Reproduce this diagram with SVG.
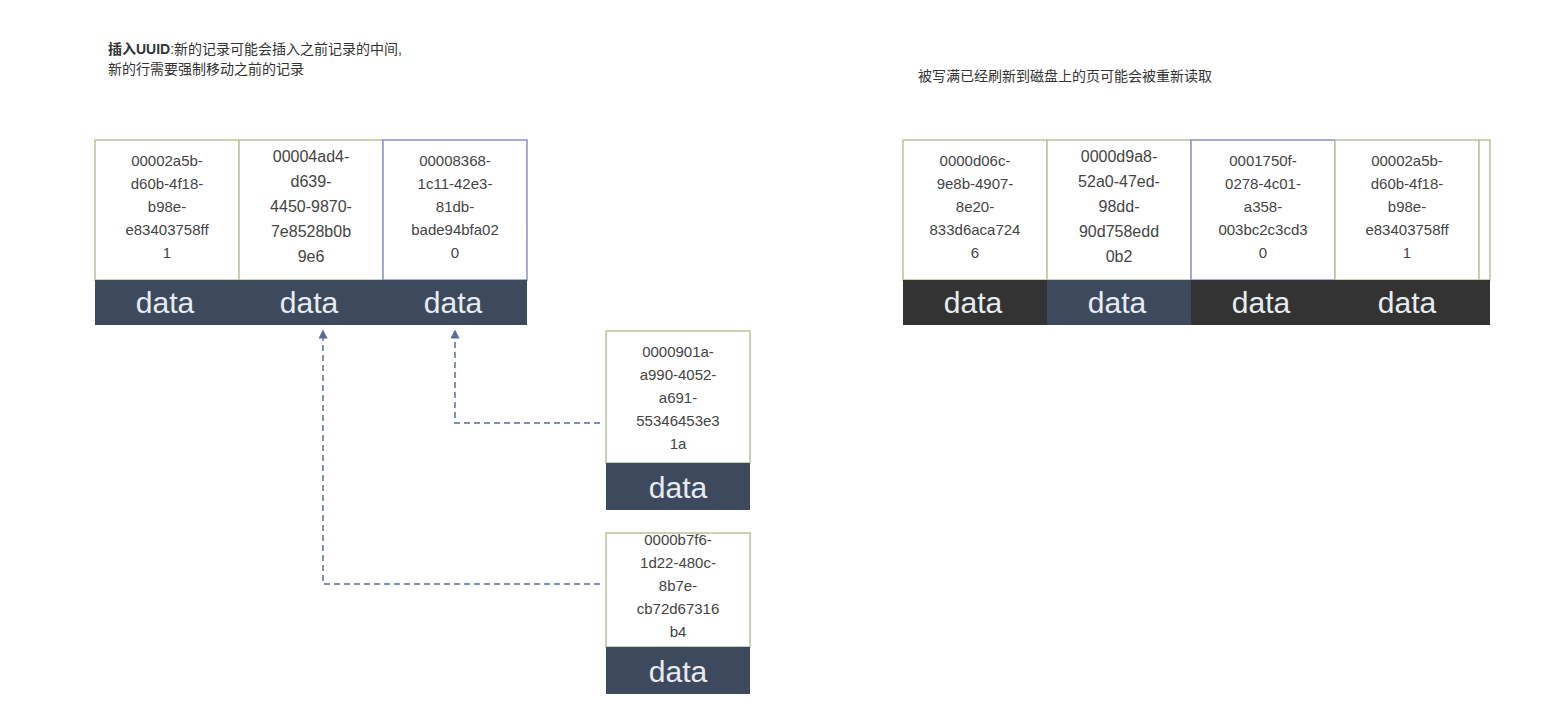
<svg xmlns="http://www.w3.org/2000/svg" width="1554" height="726" viewBox="0 0 1554 726">
<defs>
<style>
.c{fill:#fff;stroke:#b9c39a;stroke-width:1.5}
.u{font-family:"Liberation Sans",Arial,sans-serif;font-size:15px;fill:#444;text-anchor:middle}
.d{font-family:"Liberation Sans",Arial,sans-serif;font-size:30px;fill:#e8ecf2;text-anchor:middle}
.t{font-family:"Liberation Sans","Noto Sans CJK SC",sans-serif;font-size:14px;fill:#333}
.e{fill:none;stroke:#5a6a9a;stroke-width:1.5;stroke-dasharray:6 4}
</style>
<marker id="a" viewBox="0 0 10 10" refX="5" refY="5" markerWidth="6" markerHeight="6" orient="auto-start-reverse"><path d="M0,0L10,5L0,10z" fill="#5a6a9a"/></marker>
</defs>
<rect width="1554" height="726" fill="#fff"/>
<text class="t" x="108" y="54" font-weight="bold">插入UUID<tspan font-weight="normal">:新的记录可能会插入之前记录的中间,</tspan></text>
<text class="t" x="108" y="74">新的行需要强制移动之前的记录</text>
<text class="t" x="918" y="81">被写满已经刷新到磁盘上的页可能会被重新读取</text>

<g id="left-page">
<rect class="c" x="95" y="140" width="144" height="140"/>
<rect class="c" x="239" y="140" width="144" height="140"/>
<rect class="c" x="383" y="140" width="144" height="140" style="stroke:#8a92c8"/>
<rect x="95" y="280" width="432" height="45" fill="#3d4a5e"/>
<text class="u"><tspan x="167" y="166">00002a5b-</tspan><tspan x="167" y="189">d60b-4f18-</tspan><tspan x="167" y="212">b98e-</tspan><tspan x="167" y="235">e83403758ff</tspan><tspan x="167" y="258">1</tspan></text>
<text class="u" style="font-size:16px"><tspan x="311" y="162">00004ad4-</tspan><tspan x="311" y="187">d639-</tspan><tspan x="311" y="212">4450-9870-</tspan><tspan x="311" y="237">7e8528b0b</tspan><tspan x="311" y="262">9e6</tspan></text>
<text class="u"><tspan x="455" y="166">00008368-</tspan><tspan x="455" y="189">1c11-42e3-</tspan><tspan x="455" y="212">81db-</tspan><tspan x="455" y="235">bade94bfa02</tspan><tspan x="455" y="258">0</tspan></text>
<text class="d" x="165" y="313">data</text><text class="d" x="309" y="313">data</text><text class="d" x="453" y="313">data</text>
</g>

<g id="right-page">
<rect class="c" x="903" y="140" width="144" height="140"/>
<rect class="c" x="1047" y="140" width="144" height="140"/>
<rect class="c" x="1191" y="140" width="144" height="140" style="stroke:#8a92c8"/>
<rect class="c" x="1335" y="140" width="144" height="140"/>
<rect class="c" x="1479" y="140" width="11" height="140"/>
<rect x="903" y="280" width="587" height="45" fill="#333"/>
<rect x="1047" y="280" width="144" height="45" fill="#3d4a5e"/>
<text class="u"><tspan x="975" y="166">0000d06c-</tspan><tspan x="975" y="189">9e8b-4907-</tspan><tspan x="975" y="212">8e20-</tspan><tspan x="975" y="235">833d6aca724</tspan><tspan x="975" y="258">6</tspan></text>
<text class="u" style="font-size:16px"><tspan x="1119" y="162">0000d9a8-</tspan><tspan x="1119" y="187">52a0-47ed-</tspan><tspan x="1119" y="212">98dd-</tspan><tspan x="1119" y="237">90d758edd</tspan><tspan x="1119" y="262">0b2</tspan></text>
<text class="u"><tspan x="1263" y="166">0001750f-</tspan><tspan x="1263" y="189">0278-4c01-</tspan><tspan x="1263" y="212">a358-</tspan><tspan x="1263" y="235">003bc2c3cd3</tspan><tspan x="1263" y="258">0</tspan></text>
<text class="u"><tspan x="1407" y="166">00002a5b-</tspan><tspan x="1407" y="189">d60b-4f18-</tspan><tspan x="1407" y="212">b98e-</tspan><tspan x="1407" y="235">e83403758ff</tspan><tspan x="1407" y="258">1</tspan></text>
<text class="d" x="973" y="313">data</text><text class="d" x="1117" y="313">data</text><text class="d" x="1261" y="313">data</text><text class="d" x="1407" y="313">data</text>
</g>

<g id="new-row-1">
<rect class="c" x="606" y="331" width="144" height="132"/>
<rect x="606" y="463" width="144" height="47" fill="#3d4a5e"/>
<text class="u"><tspan x="678" y="357">0000901a-</tspan><tspan x="678" y="380">a990-4052-</tspan><tspan x="678" y="403">a691-</tspan><tspan x="678" y="426">55346453e3</tspan><tspan x="678" y="449">1a</tspan></text>
<text class="d" x="678" y="498">data</text>
</g>
<g id="new-row-2">
<rect class="c" x="606" y="533" width="144" height="114"/>
<rect x="606" y="647" width="144" height="47" fill="#3d4a5e"/>
<text class="u"><tspan x="678" y="545">0000b7f6-</tspan><tspan x="678" y="568">1d22-480c-</tspan><tspan x="678" y="591">8b7e-</tspan><tspan x="678" y="614">cb72d67316</tspan><tspan x="678" y="637">b4</tspan></text>
<text class="d" x="678" y="682">data</text>
</g>

<g id="connectors">
<path class="e" d="M600,423H455V334" marker-end="url(#a)"/>
<path class="e" d="M600,584H323V334" marker-end="url(#a)"/>
</g>
</svg>
